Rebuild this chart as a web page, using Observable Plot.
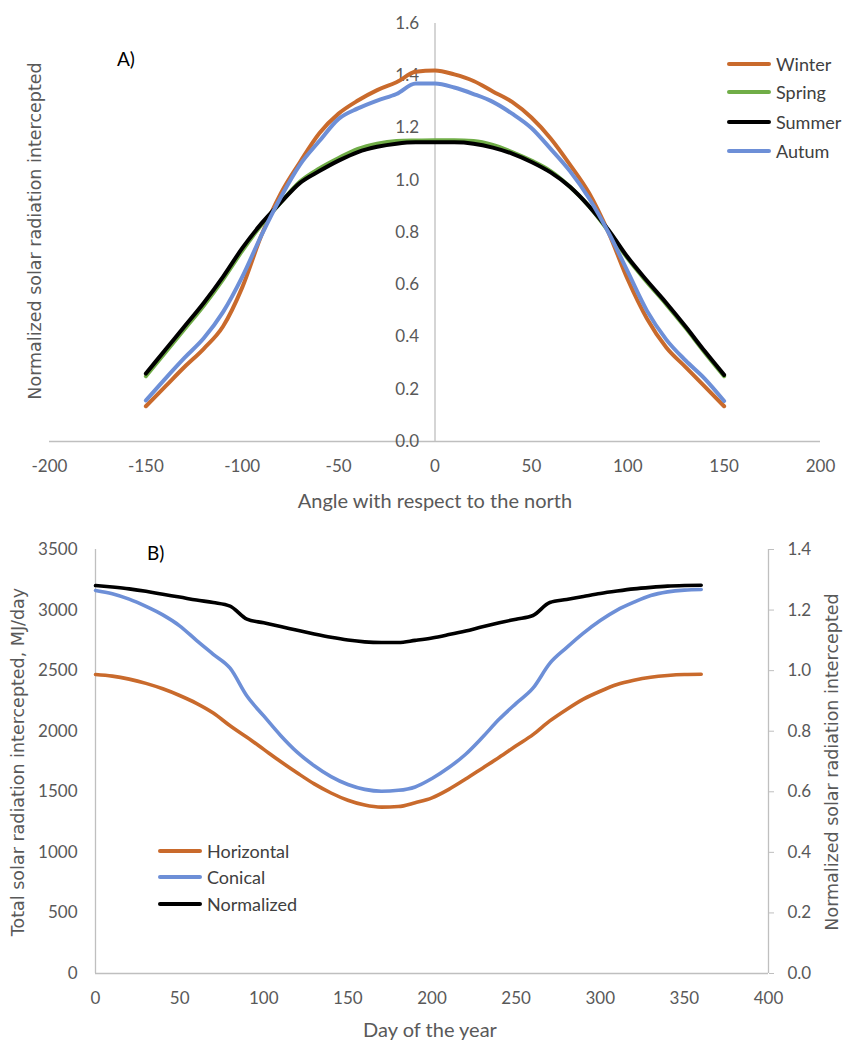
<!DOCTYPE html>
<html>
<head>
<meta charset="utf-8">
<script src="https://cdn.jsdelivr.net/npm/d3@7"></script>
<script src="https://cdn.jsdelivr.net/npm/@observablehq/plot@0.6"></script>
<style>
  body { margin: 0; background: #fff; }
  #wrap { position: relative; width: 843px; height: 1040px; overflow: hidden; font-family: Lato, "Open Sans", sans-serif; }
  #wrap svg { position: absolute; left: 0; }
  .abs { position: absolute; white-space: nowrap; }
  .title { color: #595959; font-size: 20px; transform: translate(-50%, -50%); }
  .ytitle { color: #595959; font-family: "DejaVu Sans", sans-serif; font-size: 17.5px; transform: translate(-50%, -50%) rotate(-90deg); }
  .panel { color: #000; font-size: 19px; transform: translate(0, -50%); }
  .leg { position: absolute; display: flex; align-items: center; color: #404040; font-size: 18px; transform: translate(0, -50%); }
  .leg span.sw { display: inline-block; width: 44px; height: 4px; margin-right: 5px; border-radius: 2px; }
</style>
</head>
<body>
<div id="wrap"></div>
<script>
// ---------- Panel A data ----------
const angles = [-150,-140,-130,-120,-110,-100,-90,-80,-70,-60,-50,-40,-30,-20,-10,0,10,20,30,40,50,60,70,80,90,100,110,120,130,140,150];
const winter = [0.135,0.21,0.285,0.355,0.44,0.59,0.79,0.95,1.07,1.18,1.255,1.305,1.345,1.375,1.415,1.42,1.405,1.38,1.34,1.30,1.24,1.16,1.06,0.95,0.80,0.62,0.47,0.36,0.285,0.21,0.135];
const spring = [0.25,0.34,0.43,0.52,0.62,0.73,0.83,0.915,0.995,1.045,1.085,1.12,1.14,1.15,1.152,1.153,1.153,1.15,1.135,1.108,1.075,1.035,0.975,0.90,0.805,0.70,0.61,0.525,0.435,0.34,0.25];
const summer = [0.26,0.35,0.44,0.53,0.63,0.74,0.835,0.915,0.99,1.035,1.075,1.108,1.128,1.14,1.145,1.145,1.145,1.14,1.125,1.102,1.07,1.03,0.975,0.90,0.81,0.705,0.615,0.53,0.44,0.345,0.255];
const autum  = [0.157,0.24,0.32,0.395,0.495,0.63,0.79,0.935,1.06,1.15,1.235,1.275,1.305,1.33,1.37,1.37,1.355,1.33,1.30,1.255,1.20,1.12,1.035,0.93,0.80,0.65,0.50,0.39,0.31,0.24,0.155];
const seasonNames = ["Winter","Spring","Summer","Autum"];
const seasonColors = ["#C96A2C","#70AD47","#000000","#6D8FD7"];
const angleTicks = [-200,-150,-100,-50,0,50,100,150,200];
const normTicksA = [0,0.2,0.4,0.6,0.8,1.0,1.2,1.4,1.6];

// ---------- Panel B data ----------
const days = [0,10,20,30,40,50,60,70,80,90,100,110,120,130,140,150,160,170,180,190,200,210,220,230,240,250,260,270,280,290,300,310,320,330,340,350,360];
const horizontal = [2468,2455,2430,2395,2350,2295,2230,2150,2045,1950,1850,1750,1655,1565,1490,1430,1390,1373,1378,1410,1450,1520,1605,1695,1785,1880,1972,2085,2180,2265,2330,2385,2420,2445,2460,2468,2470];
const conical = [3162,3135,3090,3030,2960,2870,2750,2635,2520,2290,2126,1965,1825,1715,1625,1560,1520,1505,1512,1540,1610,1700,1810,1950,2100,2230,2355,2560,2690,2810,2914,3000,3065,3120,3150,3165,3170];
const normalized = [1.281,1.276,1.270,1.262,1.252,1.243,1.233,1.225,1.213,1.170,1.158,1.146,1.133,1.121,1.110,1.101,1.095,1.093,1.093,1.100,1.108,1.119,1.131,1.145,1.158,1.170,1.182,1.225,1.235,1.245,1.255,1.263,1.270,1.275,1.279,1.281,1.282];
const dayTicks = [0,50,100,150,200,250,300,350,400];
const mjTicks = [0,500,1000,1500,2000,2500,3000,3500];
const normTicksB = [0,0.2,0.4,0.6,0.8,1.0,1.2,1.4];
const seriesB = ["Horizontal","Conical","Normalized"];
const colorsB = ["#C96A2C","#6D8FD7","#000000"];

const tickFont = 'Lato, "Open Sans", sans-serif';
const grey = "#BFBFBF";
const tickColor = "#595959";
const plain = d => String(d);

// ----- Panel A -----
const rowsA = [winter, spring, summer, autum].map(vals => angles.map((a, i) => ({angle: a, value: vals[i]})));
const plotA = Plot.plot({
  width: 843, height: 515,
  marginLeft: 49, marginRight: 23, marginTop: 23, marginBottom: 74,
  style: {fontFamily: tickFont, fontSize: "17px", background: "transparent", overflow: "visible"},
  x: {domain: [-200, 200], axis: null},
  y: {domain: [0, 1.6], axis: null},
  marks: [
    Plot.ruleY([0], {stroke: grey, strokeWidth: 1.3}),
    Plot.ruleX([0], {y1: 0, y2: 1.6, stroke: grey, strokeWidth: 1.3}),
    Plot.axisX(angleTicks, {tickSize: 0, tickPadding: 18, fill: tickColor, fontSize: 17, label: null, tickFormat: plain}),
    Plot.text(normTicksA, {x: 0, y: d => d, text: d => d.toFixed(1), textAnchor: "end", dx: -16, fill: tickColor, fontSize: 17}),
    ...rowsA.map((rows, i) => Plot.line(rows, {x: "angle", y: "value", stroke: seasonColors[i], strokeWidth: 4, curve: "monotone-x"}))
  ]
});
plotA.style.top = "0px";

// ----- Panel B -----
const rowsB = [horizontal, conical].map(vals => days.map((d, i) => ({day: d, value: vals[i]})));
const rowsN = days.map((d, i) => ({day: d, value: normalized[i]}));
const plotB = Plot.plot({
  width: 843, height: 525,
  marginLeft: 95, marginRight: 75, marginTop: 34, marginBottom: 67,
  style: {fontFamily: tickFont, fontSize: "17px", background: "transparent", overflow: "visible"},
  x: {domain: [0, 400], axis: null},
  y: {domain: [0, 3500], axis: null},
  marks: [
    Plot.ruleY([0], {stroke: grey, strokeWidth: 1.3}),
    Plot.ruleX([0], {y1: 0, y2: 3500, stroke: grey, strokeWidth: 1.3}),
    Plot.ruleX([400], {y1: 0, y2: 3500, stroke: grey, strokeWidth: 1.3}),
    Plot.axisX(dayTicks, {tickSize: 0, tickPadding: 18, fill: tickColor, fontSize: 17, label: null, tickFormat: plain}),
    Plot.axisY(mjTicks, {anchor: "left", tickSize: 0, tickPadding: 18, fill: tickColor, fontSize: 17, label: null, tickFormat: plain}),
    Plot.axisY(normTicksB.map(v => v * 2500), {anchor: "right", tickSize: 5, tickPadding: 14, stroke: grey, fill: tickColor, fontSize: 17, label: null, tickFormat: d => (d / 2500).toFixed(1)}),
    Plot.line(rowsB[0], {x: "day", y: "value", stroke: colorsB[0], strokeWidth: 3.6, curve: "monotone-x"}),
    Plot.line(rowsB[1], {x: "day", y: "value", stroke: colorsB[1], strokeWidth: 3.6, curve: "monotone-x"}),
    Plot.line(rowsN, {x: "day", y: d => d.value * 2500, stroke: colorsB[2], strokeWidth: 3.6, curve: "monotone-x"})
  ]
});
plotB.style.top = "515px";

const wrap = document.getElementById("wrap");
wrap.appendChild(plotA);
wrap.appendChild(plotB);

function addDiv(cls, text, left, top) {
  const d = document.createElement("div");
  d.className = "abs " + cls;
  d.textContent = text;
  d.style.left = left + "px";
  d.style.top = top + "px";
  wrap.appendChild(d);
  return d;
}
addDiv("panel", "A)", 117, 58);
addDiv("title", "Angle with respect to the north", 435, 500);
addDiv("ytitle", "Normalized solar radiation intercepted", 35, 231);

addDiv("panel", "B)", 147, 552);
addDiv("title", "Day of the year", 430, 1029);
addDiv("ytitle", "Total solar radiation intercepted, MJ/day", 18, 762);
addDiv("ytitle", "Normalized solar radiation intercepted", 832, 762);

function addLegend(names, colors, left, tops) {
  names.forEach((n, i) => {
    const d = document.createElement("div");
    d.className = "leg";
    d.style.left = left + "px";
    d.style.top = tops[i] + "px";
    const sw = document.createElement("span");
    sw.className = "sw";
    sw.style.background = colors[i];
    d.appendChild(sw);
    d.appendChild(document.createTextNode(n));
    wrap.appendChild(d);
  });
}
addLegend(seasonNames, seasonColors, 727, [64, 92, 122, 151]);
addLegend(seriesB, colorsB, 158, [851, 877, 904]);
</script>
</body>
</html>
